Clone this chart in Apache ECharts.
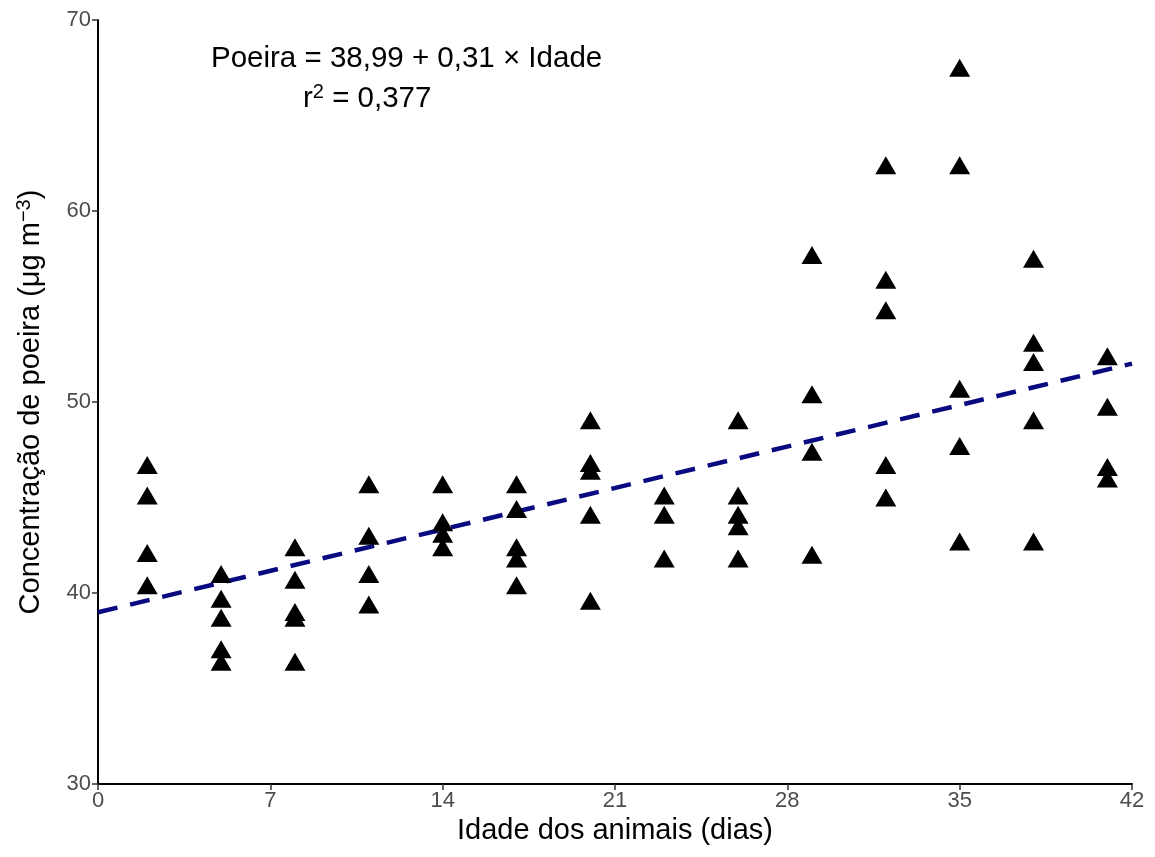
<!DOCTYPE html>
<html>
<head>
<meta charset="utf-8">
<script src="https://cdn.jsdelivr.net/npm/echarts@6/dist/echarts.min.js"></script>
<style>
  html, body { margin: 0; padding: 0; background: #fff; }
  #chart { width: 1155px; height: 857px; }
</style>
</head>
<body>
<div id="chart"></div>
<script>
// idade (dias) de cada grupo de medições
const days = [2, 5, 8, 11, 14, 17, 20, 23, 26, 29, 32, 35, 38, 41]
// concentração de poeira (ug m-3) lida em cada idade
const poeira = [
  [46.7, 45.1, 42.1, 40.4],
  [41.0, 39.7, 38.7, 37.05, 36.4],
  [42.4, 40.7, 39.0, 38.7, 36.4],
  [45.7, 43.0, 41.0, 39.4],
  [45.7, 43.7, 43.1, 42.4],
  [45.7, 44.4, 42.4, 41.8, 40.4],
  [49.05, 46.8, 46.4, 44.1, 39.6],
  [45.1, 44.1, 41.8],
  [49.05, 45.1, 44.1, 43.5, 41.8],
  [57.7, 50.4, 47.4, 42.0],
  [62.4, 56.4, 54.8, 46.7, 45.0],
  [67.5, 62.4, 50.7, 47.7, 42.7],
  [57.5, 53.1, 52.1, 49.05, 42.7],
  [52.4, 49.75, 46.6, 46.0]
]
// ajuste linear: Poeira = 38,99 + 0,31 x Idade
const intercept = 38.99
const slope = 0.31
const xTicks = [0, 42, 7]
const yTicks = [30, 70, 10]

const points = []
days.forEach((d, i) => {
  poeira[i].forEach(v => points.push([d, v]))
})
const fit = [xTicks[0], xTicks[1]].map(x => [x, intercept + slope * x])

const font = 'Arial, "Liberation Sans", sans-serif'
const chart = echarts.init(document.getElementById('chart'))

chart.setOption({
  animation: false,
  backgroundColor: '#fff',
  grid: { left: 98, right: 23, top: 20, bottom: 73 },
  xAxis: {
    type: 'value',
    min: xTicks[0],
    max: xTicks[1],
    interval: xTicks[2],
    name: 'Idade dos animais (dias)',
    nameLocation: 'middle',
    nameGap: 32,
    nameTextStyle: { fontFamily: font, fontSize: 29, color: '#000' },
    axisLine: { lineStyle: { color: '#000', width: 2 } },
    axisTick: { show: true, length: 6, lineStyle: { color: '#333', width: 1.5 } },
    axisLabel: { fontFamily: font, fontSize: 22, color: '#4d4d4d', margin: 6 },
    splitLine: { show: false }
  },
  yAxis: {
    type: 'value',
    min: yTicks[0],
    max: yTicks[1],
    interval: yTicks[2],
    name: '{t|Concentração de poeira (μg m}{sup|−3}{t|)}',
    nameLocation: 'middle',
    nameGap: 50,
    nameRotate: 90,
    nameTextStyle: {
      fontFamily: font,
      color: '#000',
      rich: {
        t: { fontFamily: font, fontSize: 29, color: '#000' },
        sup: { fontFamily: font, fontSize: 20, color: '#000', verticalAlign: 'top', padding: [0, 0, 14, 0] }
      }
    },
    axisLine: { show: true, lineStyle: { color: '#000', width: 2 } },
    axisTick: { show: true, length: 6, lineStyle: { color: '#333', width: 1.5 } },
    axisLabel: { fontFamily: font, fontSize: 22, color: '#4d4d4d', margin: 7 },
    splitLine: { show: false }
  },
  series: [
    {
      type: 'line',
      data: fit,
      symbol: 'none',
      silent: true,
      lineStyle: { color: '#0a0a80', width: 4.5, type: [20, 13] },
      z: 1
    },
    {
      type: 'scatter',
      data: points,
      symbol: 'triangle',
      symbolSize: [21, 18],
      itemStyle: { color: '#000', opacity: 1 },
      z: 2
    }
  ],
  graphic: [
    {
      type: 'text',
      left: 211,
      top: 44,
      style: {
        text: 'Poeira = 38,99 + 0,31 × Idade',
        font: '29.5px ' + font,
        fill: '#000'
      }
    },
    {
      type: 'text',
      left: 303,
      top: 82,
      style: {
        text: '{t|r}{sup|2}{t| = 0,377}',
        fill: '#000',
        rich: {
          t: { fontFamily: font, fontSize: 29.5, fill: '#000' },
          sup: { fontFamily: font, fontSize: 20, fill: '#000', verticalAlign: 'top', padding: [0, 0, 14, 0] }
        }
      }
    }
  ]
})
</script>
</body>
</html>
